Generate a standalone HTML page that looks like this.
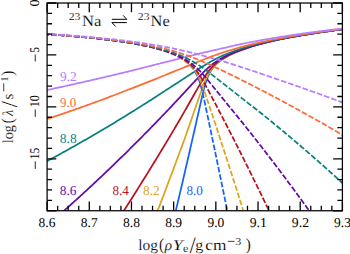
<!DOCTYPE html><html><head><meta charset="utf-8"><style>html,body{margin:0;padding:0;background:#fff;width:350px;height:254px;overflow:hidden}svg{display:block}text{font-family:"Liberation Serif",serif;text-rendering:geometricPrecision}</style></head><body><svg width="350" height="254" viewBox="0 0 350 254"><defs><clipPath id="c"><rect x="47.1" y="3.0" width="295.29999999999995" height="207.75"/></clipPath></defs><g clip-path="url(#c)" fill="none" stroke-width="1.75" stroke-linejoin="round"><polyline stroke="#1463ff" points="173.78,219.47 175.05,214.07 176.32,208.67 177.59,203.25 178.86,197.82 180.14,192.38 181.41,186.93 182.68,181.47 183.95,175.99 185.22,170.51 186.49,165.01 187.76,159.50 189.03,153.98 190.30,148.45 191.57,142.91 192.84,137.35 194.11,131.78 195.39,126.21 196.66,120.62 197.93,115.02 199.20,109.41 200.47,103.80 201.74,98.23 203.01,92.79 204.28,87.68 205.55,83.17 206.82,79.37 208.09,76.20 209.36,73.53 210.64,71.25 211.91,69.28 213.18,67.54 214.45,66.00 215.72,64.64 216.99,63.42 218.26,62.31 219.53,61.30 220.80,60.36 222.07,59.49 223.34,58.68 224.62,57.93 225.89,57.17 227.16,56.44 228.43,55.74 229.70,55.08 230.97,54.45 232.24,53.85 233.51,53.27 234.78,52.71 236.05,52.18 237.32,51.67 238.59,51.18 239.87,50.70 241.14,50.20 242.41,49.71 243.68,49.24 244.95,48.78 246.22,48.33 247.49,47.89 248.76,47.46 250.03,47.04 251.30,46.64 252.57,46.24 253.85,45.85 255.12,45.47 256.39,45.10 257.66,44.74 258.93,44.38 260.20,44.03 261.47,43.69 262.74,43.36 264.01,43.03 265.28,42.70 266.55,42.39 267.82,42.07 269.10,41.77 270.37,41.46 271.64,41.17 272.91,40.88 274.18,40.60 275.45,40.31 276.72,40.04 277.99,39.77 279.26,39.50 280.53,39.23 281.80,38.97 283.08,38.71 284.35,38.46 285.62,38.21 286.89,37.96 288.16,37.72 289.43,37.47 290.70,37.24 291.97,37.00 293.24,36.77 294.51,36.54 295.78,36.31 297.05,36.08 298.33,35.86 299.60,35.64 300.87,35.42 302.14,35.21 303.41,34.99 304.68,34.78 305.95,34.57 307.22,34.37 308.49,34.16 309.76,33.96 311.03,33.76 312.31,33.56 313.58,33.36 314.85,33.17 316.12,32.97 317.39,32.78 318.66,32.59 319.93,32.40 321.20,32.21 322.47,32.03 323.74,31.84 325.01,31.66 326.28,31.48 327.56,31.30 328.83,31.12 330.10,30.94 331.37,30.77 332.64,30.59 333.91,30.42 335.18,30.25 336.45,30.08 337.72,29.91 338.99,29.74 340.26,29.57 341.54,29.41 342.81,29.24 344.08,29.08 345.35,28.92 346.62,28.75"/><polyline stroke="#daa520" points="154.72,218.31 155.99,215.01 157.26,211.70 158.53,208.39 159.80,205.07 161.07,201.75 162.34,198.41 163.61,195.07 164.88,191.73 166.16,188.37 167.43,185.01 168.70,181.64 169.97,178.27 171.24,174.89 172.51,171.50 173.78,168.10 175.05,164.70 176.32,161.29 177.59,157.87 178.86,154.45 180.14,151.02 181.41,147.58 182.68,144.13 183.95,140.68 185.22,137.19 186.49,133.55 187.76,129.91 189.03,126.25 190.30,122.60 191.57,118.93 192.84,115.26 194.11,111.58 195.39,107.89 196.66,104.20 197.93,100.55 199.20,96.91 200.47,93.30 201.74,89.72 203.01,86.23 204.28,82.87 205.55,79.79 206.82,77.06 208.09,74.59 209.36,72.38 210.64,70.41 211.91,68.64 213.18,67.08 214.45,65.67 215.72,64.39 216.99,63.22 218.26,62.14 219.53,61.15 220.80,60.22 222.07,59.36 223.34,58.55 224.62,57.79 225.89,57.04 227.16,56.32 228.43,55.63 229.70,54.98 230.97,54.36 232.24,53.76 233.51,53.19 234.78,52.65 236.05,52.12 237.32,51.61 238.59,51.12 239.87,50.65 241.14,50.16 242.41,49.67 243.68,49.20 244.95,48.74 246.22,48.29 247.49,47.85 248.76,47.43 250.03,47.01 251.30,46.61 252.57,46.21 253.85,45.83 255.12,45.45 256.39,45.08 257.66,44.72 258.93,44.36 260.20,44.01 261.47,43.67 262.74,43.34 264.01,43.01 265.28,42.69 266.55,42.37 267.82,42.06 269.10,41.75 270.37,41.45 271.64,41.16 272.91,40.87 274.18,40.58 275.45,40.30 276.72,40.03 277.99,39.75 279.26,39.49 280.53,39.22 281.80,38.96 283.08,38.70 284.35,38.45 285.62,38.20 286.89,37.95 288.16,37.71 289.43,37.47 290.70,37.23 291.97,36.99 293.24,36.76 294.51,36.53 295.78,36.30 297.05,36.08 298.33,35.85 299.60,35.63 300.87,35.42 302.14,35.20 303.41,34.99 304.68,34.78 305.95,34.57 307.22,34.36 308.49,34.16 309.76,33.95 311.03,33.75 312.31,33.55 313.58,33.36 314.85,33.16 316.12,32.97 317.39,32.77 318.66,32.58 319.93,32.39 321.20,32.21 322.47,32.02 323.74,31.84 325.01,31.66 326.28,31.47 327.56,31.29 328.83,31.12 330.10,30.94 331.37,30.76 332.64,30.59 333.91,30.42 335.18,30.24 336.45,30.07 337.72,29.90 338.99,29.74 340.26,29.57 341.54,29.40 342.81,29.24 344.08,29.07 345.35,28.91 346.62,28.75"/><polyline stroke="#b9121e" points="119.13,218.03 120.40,216.06 121.68,214.10 122.95,212.13 124.22,210.15 125.49,208.17 126.76,206.19 128.03,204.20 129.30,202.21 130.57,200.21 131.84,198.21 133.11,196.21 134.38,194.20 135.65,192.19 136.93,190.17 138.20,188.15 139.47,186.13 140.74,184.10 142.01,182.07 143.28,180.03 144.55,177.99 145.82,175.94 147.09,173.89 148.36,171.84 149.63,169.78 150.91,167.71 152.18,165.65 153.45,163.57 154.72,161.50 155.99,159.42 157.26,157.33 158.53,155.24 159.80,153.15 161.07,151.05 162.34,148.95 163.61,146.84 164.88,144.73 166.16,142.62 167.43,140.50 168.70,138.37 169.97,136.25 171.24,134.11 172.51,131.98 173.78,129.83 175.05,127.69 176.32,125.54 177.59,123.38 178.86,121.22 180.14,119.05 181.41,116.84 182.68,114.62 183.95,112.40 185.22,110.18 186.49,107.95 187.76,105.72 189.03,103.48 190.30,101.24 191.57,98.99 192.84,96.74 194.11,94.49 195.39,92.26 196.66,90.07 197.93,87.89 199.20,85.72 200.47,83.57 201.74,81.44 203.01,79.36 204.28,77.33 205.55,75.38 206.82,73.52 208.09,71.76 209.36,70.11 210.64,68.59 211.91,67.20 213.18,65.90 214.45,64.69 215.72,63.57 216.99,62.52 218.26,61.53 219.53,60.61 220.80,59.75 222.07,58.93 223.34,58.16 224.62,57.43 225.89,56.72 227.16,56.03 228.43,55.37 229.70,54.74 230.97,54.14 232.24,53.56 233.51,53.01 234.78,52.48 236.05,51.96 237.32,51.47 238.59,50.99 239.87,50.53 241.14,50.04 242.41,49.56 243.68,49.09 244.95,48.64 246.22,48.20 247.49,47.77 248.76,47.35 250.03,46.94 251.30,46.53 252.57,46.14 253.85,45.76 255.12,45.39 256.39,45.02 257.66,44.66 258.93,44.31 260.20,43.96 261.47,43.62 262.74,43.29 264.01,42.96 265.28,42.64 266.55,42.33 267.82,42.02 269.10,41.71 270.37,41.41 271.64,41.12 272.91,40.83 274.18,40.55 275.45,40.27 276.72,39.99 277.99,39.72 279.26,39.46 280.53,39.19 281.80,38.93 283.08,38.68 284.35,38.42 285.62,38.17 286.89,37.93 288.16,37.68 289.43,37.44 290.70,37.20 291.97,36.97 293.24,36.74 294.51,36.51 295.78,36.28 297.05,36.06 298.33,35.84 299.60,35.62 300.87,35.40 302.14,35.18 303.41,34.97 304.68,34.76 305.95,34.55 307.22,34.35 308.49,34.14 309.76,33.94 311.03,33.74 312.31,33.54 313.58,33.34 314.85,33.15 316.12,32.95 317.39,32.76 318.66,32.57 319.93,32.38 321.20,32.20 322.47,32.01 323.74,31.83 325.01,31.64 326.28,31.46 327.56,31.28 328.83,31.11 330.10,30.93 331.37,30.75 332.64,30.58 333.91,30.41 335.18,30.23 336.45,30.06 337.72,29.89 338.99,29.73 340.26,29.56 341.54,29.39 342.81,29.23 344.08,29.07 345.35,28.90 346.62,28.74"/><polyline stroke="#640aa8" points="56.86,217.10 58.13,215.98 59.40,214.86 60.67,213.74 61.94,212.61 63.22,211.48 64.49,210.35 65.76,209.22 67.03,208.08 68.30,206.95 69.57,205.81 70.84,204.66 72.11,203.52 73.38,202.37 74.65,201.22 75.92,200.07 77.19,198.92 78.47,197.76 79.74,196.60 81.01,195.44 82.28,194.28 83.55,193.11 84.82,191.95 86.09,190.77 87.36,189.60 88.63,188.43 89.90,187.25 91.17,186.07 92.45,184.88 93.72,183.70 94.99,182.51 96.26,181.32 97.53,180.13 98.80,178.93 100.07,177.74 101.34,176.54 102.61,175.33 103.88,174.13 105.15,172.92 106.42,171.71 107.70,170.50 108.97,169.28 110.24,168.07 111.51,166.85 112.78,165.62 114.05,164.40 115.32,163.17 116.59,161.94 117.86,160.71 119.13,159.47 120.40,158.24 121.68,157.00 122.95,155.75 124.22,154.51 125.49,153.26 126.76,152.01 128.03,150.76 129.30,149.50 130.57,148.24 131.84,146.98 133.11,145.72 134.38,144.45 135.65,143.18 136.93,141.91 138.20,140.64 139.47,139.36 140.74,138.08 142.01,136.80 143.28,135.51 144.55,134.22 145.82,132.93 147.09,131.64 148.36,130.35 149.63,129.05 150.91,127.75 152.18,126.44 153.45,125.14 154.72,123.83 155.99,122.52 157.26,121.20 158.53,119.88 159.80,118.56 161.07,117.24 162.34,115.91 163.61,114.59 164.88,113.25 166.16,111.92 167.43,110.58 168.70,109.24 169.97,107.90 171.24,106.56 172.51,105.21 173.78,103.86 175.05,102.51 176.32,101.15 177.59,99.79 178.86,98.43 180.14,97.06 181.41,95.70 182.68,94.33 183.95,92.95 185.22,91.58 186.49,90.20 187.76,88.82 189.03,87.44 190.30,86.07 191.57,84.72 192.84,83.37 194.11,82.02 195.39,80.67 196.66,79.33 197.93,77.99 199.20,76.66 200.47,75.34 201.74,74.03 203.01,72.75 204.28,71.48 205.55,70.26 206.82,69.08 208.09,67.93 209.36,66.83 210.64,65.76 211.91,64.74 213.18,63.75 214.45,62.81 215.72,61.92 216.99,61.06 218.26,60.24 219.53,59.45 220.80,58.71 222.07,57.99 223.34,57.30 224.62,56.65 225.89,56.00 227.16,55.38 228.43,54.77 229.70,54.19 230.97,53.64 232.24,53.10 233.51,52.58 234.78,52.08 236.05,51.59 237.32,51.12 238.59,50.66 239.87,50.22 241.14,49.75 242.41,49.29 243.68,48.84 244.95,48.40 246.22,47.97 247.49,47.55 248.76,47.14 250.03,46.74 251.30,46.35 252.57,45.97 253.85,45.60 255.12,45.23 256.39,44.87 257.66,44.52 258.93,44.17 260.20,43.83 261.47,43.50 262.74,43.17 264.01,42.85 265.28,42.53 266.55,42.22 267.82,41.91 269.10,41.61 270.37,41.32 271.64,41.03 272.91,40.74 274.18,40.46 275.45,40.19 276.72,39.92 277.99,39.65 279.26,39.38 280.53,39.12 281.80,38.86 283.08,38.61 284.35,38.36 285.62,38.11 286.89,37.87 288.16,37.62 289.43,37.39 290.70,37.15 291.97,36.92 293.24,36.69 294.51,36.46 295.78,36.23 297.05,36.01 298.33,35.79 299.60,35.57 300.87,35.35 302.14,35.14 303.41,34.93 304.68,34.72 305.95,34.51 307.22,34.31 308.49,34.10 309.76,33.90 311.03,33.70 312.31,33.50 313.58,33.31 314.85,33.11 316.12,32.92 317.39,32.73 318.66,32.54 319.93,32.35 321.20,32.17 322.47,31.98 323.74,31.80 325.01,31.62 326.28,31.43 327.56,31.26 328.83,31.08 330.10,30.90 331.37,30.73 332.64,30.55 333.91,30.38 335.18,30.21 336.45,30.04 337.72,29.87 338.99,29.70 340.26,29.54 341.54,29.37 342.81,29.21 344.08,29.05 345.35,28.88 346.62,28.72"/><polyline stroke="#08807f" points="42.88,163.44 44.15,162.76 45.42,162.08 46.69,161.39 47.96,160.70 49.24,160.01 50.51,159.32 51.78,158.63 53.05,157.94 54.32,157.24 55.59,156.55 56.86,155.85 58.13,155.15 59.40,154.45 60.67,153.75 61.94,153.04 63.22,152.34 64.49,151.63 65.76,150.92 67.03,150.21 68.30,149.50 69.57,148.79 70.84,148.08 72.11,147.36 73.38,146.65 74.65,145.93 75.92,145.21 77.19,144.49 78.47,143.76 79.74,143.04 81.01,142.31 82.28,141.59 83.55,140.86 84.82,140.13 86.09,139.40 87.36,138.66 88.63,137.93 89.90,137.19 91.17,136.45 92.45,135.72 93.72,134.97 94.99,134.23 96.26,133.49 97.53,132.74 98.80,132.00 100.07,131.25 101.34,130.50 102.61,129.74 103.88,128.99 105.15,128.23 106.42,127.48 107.70,126.72 108.97,125.96 110.24,125.20 111.51,124.43 112.78,123.67 114.05,122.90 115.32,122.13 116.59,121.37 117.86,120.59 119.13,119.82 120.40,119.05 121.68,118.27 122.95,117.49 124.22,116.71 125.49,115.93 126.76,115.15 128.03,114.37 129.30,113.58 130.57,112.79 131.84,112.00 133.11,111.21 134.38,110.42 135.65,109.62 136.93,108.83 138.20,108.03 139.47,107.23 140.74,106.43 142.01,105.63 143.28,104.82 144.55,104.02 145.82,103.21 147.09,102.40 148.36,101.59 149.63,100.78 150.91,99.96 152.18,99.15 153.45,98.33 154.72,97.51 155.99,96.69 157.26,95.87 158.53,95.04 159.80,94.22 161.07,93.39 162.34,92.56 163.61,91.73 164.88,90.89 166.16,90.08 167.43,89.27 168.70,88.45 169.97,87.63 171.24,86.82 172.51,86.00 173.78,85.17 175.05,84.35 176.32,83.53 177.59,82.70 178.86,81.87 180.14,81.04 181.41,80.21 182.68,79.38 183.95,78.55 185.22,77.71 186.49,76.88 187.76,76.05 189.03,75.21 190.30,74.38 191.57,73.54 192.84,72.71 194.11,71.88 195.39,71.05 196.66,70.22 197.93,69.40 199.20,68.58 200.47,67.77 201.74,66.97 203.01,66.19 204.28,65.41 205.55,64.64 206.82,63.88 208.09,63.13 209.36,62.40 210.64,61.68 211.91,60.97 213.18,60.28 214.45,59.61 215.72,58.95 216.99,58.31 218.26,57.68 219.53,57.07 220.80,56.48 222.07,55.90 223.34,55.34 224.62,54.80 225.89,54.26 227.16,53.73 228.43,53.21 229.70,52.71 230.97,52.22 232.24,51.74 233.51,51.28 234.78,50.83 236.05,50.39 237.32,49.96 238.59,49.54 239.87,49.13 241.14,48.71 242.41,48.29 243.68,47.88 244.95,47.48 246.22,47.09 247.49,46.71 248.76,46.33 250.03,45.96 251.30,45.60 252.57,45.25 253.85,44.90 255.12,44.56 256.39,44.22 257.66,43.89 258.93,43.57 260.20,43.25 261.47,42.94 262.74,42.63 264.01,42.33 265.28,42.03 266.55,41.74 267.82,41.45 269.10,41.17 270.37,40.89 271.64,40.61 272.91,40.34 274.18,40.07 275.45,39.80 276.72,39.54 277.99,39.28 279.26,39.02 280.53,38.77 281.80,38.52 283.08,38.28 284.35,38.04 285.62,37.80 286.89,37.56 288.16,37.32 289.43,37.09 290.70,36.86 291.97,36.64 293.24,36.41 294.51,36.19 295.78,35.97 297.05,35.76 298.33,35.54 299.60,35.33 300.87,35.12 302.14,34.91 303.41,34.71 304.68,34.50 305.95,34.30 307.22,34.10 308.49,33.90 309.76,33.71 311.03,33.51 312.31,33.32 313.58,33.13 314.85,32.94 316.12,32.75 317.39,32.57 318.66,32.38 319.93,32.20 321.20,32.02 322.47,31.84 323.74,31.66 325.01,31.48 326.28,31.31 327.56,31.13 328.83,30.96 330.10,30.79 331.37,30.62 332.64,30.45 333.91,30.28 335.18,30.11 336.45,29.95 337.72,29.78 338.99,29.62 340.26,29.46 341.54,29.30 342.81,29.14 344.08,28.98 345.35,28.82 346.62,28.66"/><polyline stroke="#ff6a35" points="42.88,120.43 44.15,120.01 45.42,119.58 46.69,119.16 47.96,118.73 49.24,118.31 50.51,117.88 51.78,117.46 53.05,117.03 54.32,116.60 55.59,116.17 56.86,115.74 58.13,115.30 59.40,114.87 60.67,114.44 61.94,114.00 63.22,113.57 64.49,113.13 65.76,112.69 67.03,112.25 68.30,111.82 69.57,111.37 70.84,110.93 72.11,110.49 73.38,110.05 74.65,109.60 75.92,109.16 77.19,108.71 78.47,108.27 79.74,107.82 81.01,107.37 82.28,106.92 83.55,106.47 84.82,106.02 86.09,105.57 87.36,105.11 88.63,104.66 89.90,104.20 91.17,103.75 92.45,103.29 93.72,102.83 94.99,102.37 96.26,101.91 97.53,101.45 98.80,100.99 100.07,100.52 101.34,100.05 102.61,99.57 103.88,99.09 105.15,98.61 106.42,98.13 107.70,97.65 108.97,97.16 110.24,96.68 111.51,96.19 112.78,95.71 114.05,95.22 115.32,94.73 116.59,94.25 117.86,93.76 119.13,93.26 120.40,92.77 121.68,92.28 122.95,91.79 124.22,91.29 125.49,90.79 126.76,90.30 128.03,89.80 129.30,89.31 130.57,88.82 131.84,88.33 133.11,87.84 134.38,87.35 135.65,86.85 136.93,86.36 138.20,85.86 139.47,85.37 140.74,84.87 142.01,84.37 143.28,83.87 144.55,83.37 145.82,82.87 147.09,82.37 148.36,81.86 149.63,81.36 150.91,80.85 152.18,80.35 153.45,79.84 154.72,79.33 155.99,78.82 157.26,78.31 158.53,77.80 159.80,77.28 161.07,76.77 162.34,76.25 163.61,75.74 164.88,75.22 166.16,74.70 167.43,74.18 168.70,73.66 169.97,73.14 171.24,72.62 172.51,72.10 173.78,71.58 175.05,71.05 176.32,70.54 177.59,70.02 178.86,69.51 180.14,68.99 181.41,68.47 182.68,67.96 183.95,67.44 185.22,66.92 186.49,66.40 187.76,65.89 189.03,65.37 190.30,64.85 191.57,64.34 192.84,63.82 194.11,63.31 195.39,62.79 196.66,62.28 197.93,61.77 199.20,61.26 200.47,60.76 201.74,60.26 203.01,59.76 204.28,59.27 205.55,58.78 206.82,58.29 208.09,57.81 209.36,57.33 210.64,56.86 211.91,56.39 213.18,55.92 214.45,55.46 215.72,55.01 216.99,54.56 218.26,54.12 219.53,53.68 220.80,53.25 222.07,52.82 223.34,52.41 224.62,51.99 225.89,51.58 227.16,51.17 228.43,50.77 229.70,50.38 230.97,49.99 232.24,49.60 233.51,49.23 234.78,48.86 236.05,48.49 237.32,48.13 238.59,47.78 239.87,47.43 241.14,47.08 242.41,46.73 243.68,46.39 244.95,46.05 246.22,45.72 247.49,45.39 248.76,45.07 250.03,44.75 251.30,44.44 252.57,44.13 253.85,43.83 255.12,43.53 256.39,43.23 257.66,42.94 258.93,42.66 260.20,42.38 261.47,42.10 262.74,41.83 264.01,41.56 265.28,41.29 266.55,41.03 267.82,40.77 269.10,40.51 270.37,40.25 271.64,40.00 272.91,39.74 274.18,39.49 275.45,39.24 276.72,38.99 277.99,38.75 279.26,38.51 280.53,38.27 281.80,38.04 283.08,37.80 284.35,37.57 285.62,37.35 286.89,37.12 288.16,36.90 289.43,36.68 290.70,36.46 291.97,36.25 293.24,36.03 294.51,35.82 295.78,35.61 297.05,35.40 298.33,35.20 299.60,34.99 300.87,34.79 302.14,34.59 303.41,34.40 304.68,34.20 305.95,34.00 307.22,33.81 308.49,33.62 309.76,33.43 311.03,33.24 312.31,33.06 313.58,32.87 314.85,32.69 316.12,32.51 317.39,32.33 318.66,32.15 319.93,31.97 321.20,31.80 322.47,31.62 323.74,31.45 325.01,31.28 326.28,31.11 327.56,30.94 328.83,30.77 330.10,30.60 331.37,30.44 332.64,30.27 333.91,30.11 335.18,29.95 336.45,29.79 337.72,29.63 338.99,29.47 340.26,29.31 341.54,29.15 342.81,29.00 344.08,28.84 345.35,28.69 346.62,28.53"/><polyline stroke="#b87cff" points="42.88,90.92 44.15,90.65 45.42,90.38 46.69,90.11 47.96,89.84 49.24,89.57 50.51,89.29 51.78,89.02 53.05,88.75 54.32,88.47 55.59,88.20 56.86,87.92 58.13,87.65 59.40,87.37 60.67,87.09 61.94,86.82 63.22,86.54 64.49,86.26 65.76,85.98 67.03,85.70 68.30,85.42 69.57,85.14 70.84,84.86 72.11,84.57 73.38,84.29 74.65,84.01 75.92,83.72 77.19,83.44 78.47,83.15 79.74,82.87 81.01,82.58 82.28,82.29 83.55,82.01 84.82,81.72 86.09,81.43 87.36,81.14 88.63,80.85 89.90,80.56 91.17,80.27 92.45,79.97 93.72,79.68 94.99,79.39 96.26,79.09 97.53,78.80 98.80,78.51 100.07,78.21 101.34,77.91 102.61,77.62 103.88,77.32 105.15,77.02 106.42,76.72 107.70,76.42 108.97,76.12 110.24,75.82 111.51,75.52 112.78,75.22 114.05,74.92 115.32,74.62 116.59,74.31 117.86,74.01 119.13,73.70 120.40,73.40 121.68,73.09 122.95,72.78 124.22,72.48 125.49,72.17 126.76,71.85 128.03,71.54 129.30,71.23 130.57,70.91 131.84,70.60 133.11,70.28 134.38,69.96 135.65,69.64 136.93,69.33 138.20,69.01 139.47,68.69 140.74,68.37 142.01,68.05 143.28,67.73 144.55,67.41 145.82,67.08 147.09,66.76 148.36,66.44 149.63,66.11 150.91,65.79 152.18,65.46 153.45,65.14 154.72,64.81 155.99,64.48 157.26,64.16 158.53,63.83 159.80,63.50 161.07,63.18 162.34,62.87 163.61,62.56 164.88,62.24 166.16,61.93 167.43,61.61 168.70,61.30 169.97,60.98 171.24,60.66 172.51,60.35 173.78,60.03 175.05,59.71 176.32,59.39 177.59,59.08 178.86,58.76 180.14,58.44 181.41,58.12 182.68,57.80 183.95,57.48 185.22,57.16 186.49,56.84 187.76,56.53 189.03,56.21 190.30,55.89 191.57,55.57 192.84,55.25 194.11,54.93 195.39,54.62 196.66,54.30 197.93,53.98 199.20,53.67 200.47,53.36 201.74,53.06 203.01,52.76 204.28,52.46 205.55,52.16 206.82,51.87 208.09,51.57 209.36,51.28 210.64,50.99 211.91,50.70 213.18,50.41 214.45,50.12 215.72,49.83 216.99,49.55 218.26,49.26 219.53,48.98 220.80,48.70 222.07,48.42 223.34,48.15 224.62,47.87 225.89,47.57 227.16,47.26 228.43,46.96 229.70,46.65 230.97,46.35 232.24,46.05 233.51,45.75 234.78,45.46 236.05,45.16 237.32,44.87 238.59,44.58 239.87,44.29 241.14,44.03 242.41,43.77 243.68,43.51 244.95,43.25 246.22,43.00 247.49,42.75 248.76,42.50 250.03,42.26 251.30,42.01 252.57,41.77 253.85,41.53 255.12,41.29 256.39,41.06 257.66,40.83 258.93,40.60 260.20,40.37 261.47,40.14 262.74,39.92 264.01,39.70 265.28,39.48 266.55,39.26 267.82,39.04 269.10,38.83 270.37,38.62 271.64,38.40 272.91,38.18 274.18,37.96 275.45,37.75 276.72,37.54 277.99,37.33 279.26,37.12 280.53,36.91 281.80,36.71 283.08,36.50 284.35,36.30 285.62,36.10 286.89,35.90 288.16,35.71 289.43,35.51 290.70,35.32 291.97,35.13 293.24,34.94 294.51,34.75 295.78,34.56 297.05,34.38 298.33,34.19 299.60,34.01 300.87,33.83 302.14,33.65 303.41,33.47 304.68,33.30 305.95,33.12 307.22,32.95 308.49,32.77 309.76,32.60 311.03,32.43 312.31,32.26 313.58,32.10 314.85,31.93 316.12,31.76 317.39,31.60 318.66,31.44 319.93,31.28 321.20,31.12 322.47,30.96 323.74,30.80 325.01,30.64 326.28,30.48 327.56,30.33 328.83,30.17 330.10,30.02 331.37,29.87 332.64,29.72 333.91,29.57 335.18,29.42 336.45,29.27 337.72,29.12 338.99,28.98 340.26,28.83 341.54,28.69 342.81,28.54 344.08,28.40 345.35,28.26 346.62,28.11"/><polyline stroke="#1463ff" stroke-dasharray="5.65 1.95" stroke-dashoffset="-0.67" points="42.88,33.99 44.15,34.07 45.42,34.15 46.69,34.24 47.96,34.32 49.24,34.41 50.51,34.50 51.78,34.59 53.05,34.68 54.32,34.77 55.59,34.86 56.86,34.95 58.13,35.04 59.40,35.14 60.67,35.23 61.94,35.33 63.22,35.43 64.49,35.52 65.76,35.62 67.03,35.72 68.30,35.83 69.57,35.93 70.84,36.03 72.11,36.14 73.38,36.25 74.65,36.35 75.92,36.46 77.19,36.57 78.47,36.69 79.74,36.80 81.01,36.91 82.28,37.03 83.55,37.15 84.82,37.27 86.09,37.39 87.36,37.51 88.63,37.64 89.90,37.76 91.17,37.89 92.45,38.02 93.72,38.15 94.99,38.28 96.26,38.42 97.53,38.55 98.80,38.69 100.07,38.83 101.34,38.98 102.61,39.12 103.88,39.27 105.15,39.42 106.42,39.57 107.70,39.72 108.97,39.88 110.24,40.04 111.51,40.20 112.78,40.36 114.05,40.53 115.32,40.70 116.59,40.87 117.86,41.04 119.13,41.22 120.40,41.40 121.68,41.59 122.95,41.78 124.22,41.97 125.49,42.16 126.76,42.36 128.03,42.56 129.30,42.77 130.57,42.98 131.84,43.19 133.11,43.41 134.38,43.63 135.65,43.86 136.93,44.09 138.20,44.33 139.47,44.58 140.74,44.82 142.01,45.08 143.28,45.34 144.55,45.60 145.82,45.88 147.09,46.16 148.36,46.44 149.63,46.74 150.91,47.04 152.18,47.35 153.45,47.67 154.72,47.99 155.99,48.33 157.26,48.68 158.53,49.03 159.80,49.40 161.07,49.78 162.34,50.18 163.61,50.58 164.88,51.00 166.16,51.44 167.43,51.89 168.70,52.36 169.97,52.85 171.24,53.36 172.51,53.89 173.78,54.44 175.05,55.03 176.32,55.64 177.59,56.28 178.86,56.95 180.14,57.66 181.41,58.42 182.68,59.22 183.95,60.08 185.22,60.99 186.49,61.98 187.76,63.04 189.03,64.20 190.30,65.47 191.57,66.87 192.84,68.43 194.11,70.19 195.39,72.19 196.66,74.52 197.93,77.25 199.20,80.53 200.47,84.48 201.74,89.21 203.01,94.60 204.28,100.37 205.55,106.30 206.82,112.29 208.09,118.30 209.36,124.33 210.64,130.37 211.91,136.43 213.18,142.49 214.45,148.57 215.72,154.66 216.99,160.76 218.26,166.87 219.53,173.00 220.80,179.14 222.07,185.29 223.34,191.45 224.62,197.62 225.89,203.81 227.16,210.01 228.43,216.22 229.70,221.14"/><polyline stroke="#daa520" stroke-dasharray="5.65 1.95" stroke-dashoffset="-0.67" points="42.88,33.98 44.15,34.07 45.42,34.15 46.69,34.24 47.96,34.32 49.24,34.41 50.51,34.50 51.78,34.58 53.05,34.67 54.32,34.76 55.59,34.85 56.86,34.95 58.13,35.04 59.40,35.13 60.67,35.23 61.94,35.33 63.22,35.42 64.49,35.52 65.76,35.62 67.03,35.72 68.30,35.82 69.57,35.93 70.84,36.03 72.11,36.14 73.38,36.24 74.65,36.35 75.92,36.46 77.19,36.57 78.47,36.68 79.74,36.80 81.01,36.91 82.28,37.03 83.55,37.15 84.82,37.26 86.09,37.39 87.36,37.51 88.63,37.63 89.90,37.76 91.17,37.88 92.45,38.01 93.72,38.14 94.99,38.28 96.26,38.41 97.53,38.55 98.80,38.69 100.07,38.83 101.34,38.97 102.61,39.11 103.88,39.26 105.15,39.41 106.42,39.56 107.70,39.72 108.97,39.87 110.24,40.03 111.51,40.19 112.78,40.35 114.05,40.52 115.32,40.69 116.59,40.86 117.86,41.04 119.13,41.21 120.40,41.40 121.68,41.58 122.95,41.77 124.22,41.96 125.49,42.15 126.76,42.35 128.03,42.55 129.30,42.76 130.57,42.97 131.84,43.18 133.11,43.40 134.38,43.62 135.65,43.85 136.93,44.08 138.20,44.32 139.47,44.56 140.74,44.81 142.01,45.06 143.28,45.32 144.55,45.59 145.82,45.86 147.09,46.14 148.36,46.42 149.63,46.71 150.91,47.01 152.18,47.32 153.45,47.64 154.72,47.97 155.99,48.30 157.26,48.65 158.53,49.00 159.80,49.37 161.07,49.75 162.34,50.14 163.61,50.54 164.88,50.96 166.16,51.39 167.43,51.84 168.70,52.31 169.97,52.79 171.24,53.30 172.51,53.82 173.78,54.37 175.05,54.95 176.32,55.55 177.59,56.18 178.86,56.84 180.14,57.54 181.41,58.28 182.68,59.07 183.95,59.90 185.22,60.79 186.49,61.75 187.76,62.78 189.03,63.89 190.30,65.09 191.57,66.41 192.84,67.86 194.11,69.47 195.39,71.26 196.66,73.26 197.93,75.52 199.20,78.08 200.47,80.94 201.74,84.10 203.01,87.51 204.28,91.10 205.55,94.80 206.82,98.54 208.09,102.32 209.36,106.12 210.64,109.93 211.91,113.75 213.18,117.58 214.45,121.41 215.72,125.26 216.99,129.11 218.26,132.97 219.53,136.83 220.80,140.71 222.07,144.59 223.34,148.48 224.62,152.38 225.89,156.28 227.16,160.20 228.43,164.12 229.70,168.05 230.97,171.98 232.24,175.93 233.51,179.88 234.78,183.84 236.05,187.81 237.32,191.78 238.59,195.77 239.87,199.76 241.14,203.76 242.41,207.77 243.68,211.79 244.95,215.81 246.22,219.84"/><polyline stroke="#b9121e" stroke-dasharray="5.65 1.95" stroke-dashoffset="-0.67" points="42.88,33.98 44.15,34.06 45.42,34.15 46.69,34.23 47.96,34.32 49.24,34.40 50.51,34.49 51.78,34.58 53.05,34.67 54.32,34.76 55.59,34.85 56.86,34.94 58.13,35.03 59.40,35.13 60.67,35.22 61.94,35.32 63.22,35.41 64.49,35.51 65.76,35.61 67.03,35.71 68.30,35.81 69.57,35.92 70.84,36.02 72.11,36.13 73.38,36.23 74.65,36.34 75.92,36.45 77.19,36.56 78.47,36.67 79.74,36.79 81.01,36.90 82.28,37.02 83.55,37.13 84.82,37.25 86.09,37.37 87.36,37.50 88.63,37.62 89.90,37.75 91.17,37.87 92.45,38.00 93.72,38.13 94.99,38.26 96.26,38.40 97.53,38.54 98.80,38.67 100.07,38.81 101.34,38.96 102.61,39.10 103.88,39.25 105.15,39.39 106.42,39.55 107.70,39.70 108.97,39.85 110.24,40.01 111.51,40.17 112.78,40.34 114.05,40.50 115.32,40.67 116.59,40.84 117.86,41.02 119.13,41.19 120.40,41.37 121.68,41.56 122.95,41.74 124.22,41.93 125.49,42.13 126.76,42.32 128.03,42.52 129.30,42.73 130.57,42.94 131.84,43.15 133.11,43.37 134.38,43.59 135.65,43.81 136.93,44.05 138.20,44.28 139.47,44.52 140.74,44.77 142.01,45.02 143.28,45.28 144.55,45.54 145.82,45.81 147.09,46.09 148.36,46.37 149.63,46.66 150.91,46.96 152.18,47.26 153.45,47.58 154.72,47.90 155.99,48.23 157.26,48.57 158.53,48.92 159.80,49.29 161.07,49.66 162.34,50.04 163.61,50.44 164.88,50.85 166.16,51.28 167.43,51.72 168.70,52.18 169.97,52.65 171.24,53.14 172.51,53.66 173.78,54.19 175.05,54.75 176.32,55.33 177.59,55.94 178.86,56.58 180.14,57.26 181.41,57.96 182.68,58.71 183.95,59.50 185.22,60.34 186.49,61.22 187.76,62.17 189.03,63.18 190.30,64.27 191.57,65.43 192.84,66.68 194.11,68.04 195.39,69.50 196.66,71.08 197.93,72.78 199.20,74.60 200.47,76.55 201.74,78.61 203.01,80.77 204.28,83.01 205.55,85.30 206.82,87.63 208.09,89.99 209.36,92.37 210.64,94.77 211.91,97.17 213.18,99.59 214.45,102.00 215.72,104.43 216.99,106.86 218.26,109.30 219.53,111.74 220.80,114.18 222.07,116.63 223.34,119.09 224.62,121.55 225.89,124.01 227.16,126.49 228.43,128.96 229.70,131.44 230.97,133.93 232.24,136.42 233.51,138.91 234.78,141.41 236.05,143.92 237.32,146.43 238.59,148.94 239.87,151.46 241.14,153.99 242.41,156.52 243.68,159.05 244.95,161.60 246.22,164.14 247.49,166.69 248.76,169.25 250.03,171.81 251.30,174.37 252.57,176.95 253.85,179.52 255.12,182.10 256.39,184.69 257.66,187.28 258.93,189.88 260.20,192.48 261.47,195.09 262.74,197.70 264.01,200.32 265.28,202.95 266.55,205.57 267.82,208.21 269.10,210.85 270.37,213.49 271.64,216.14 272.91,218.80"/><polyline stroke="#640aa8" stroke-dasharray="5.65 1.95" stroke-dashoffset="-0.67" points="42.88,33.96 44.15,34.05 45.42,34.13 46.69,34.22 47.96,34.30 49.24,34.39 50.51,34.47 51.78,34.56 53.05,34.65 54.32,34.74 55.59,34.83 56.86,34.92 58.13,35.02 59.40,35.11 60.67,35.20 61.94,35.30 63.22,35.40 64.49,35.49 65.76,35.59 67.03,35.69 68.30,35.79 69.57,35.90 70.84,36.00 72.11,36.11 73.38,36.21 74.65,36.32 75.92,36.43 77.19,36.54 78.47,36.65 79.74,36.76 81.01,36.88 82.28,36.99 83.55,37.11 84.82,37.23 86.09,37.35 87.36,37.47 88.63,37.59 89.90,37.72 91.17,37.84 92.45,37.97 93.72,38.10 94.99,38.23 96.26,38.37 97.53,38.50 98.80,38.64 100.07,38.78 101.34,38.92 102.61,39.06 103.88,39.21 105.15,39.36 106.42,39.51 107.70,39.66 108.97,39.81 110.24,39.97 111.51,40.13 112.78,40.29 114.05,40.45 115.32,40.62 116.59,40.79 117.86,40.96 119.13,41.14 120.40,41.32 121.68,41.50 122.95,41.68 124.22,41.87 125.49,42.06 126.76,42.26 128.03,42.46 129.30,42.66 130.57,42.87 131.84,43.08 133.11,43.29 134.38,43.51 135.65,43.73 136.93,43.96 138.20,44.19 139.47,44.43 140.74,44.67 142.01,44.92 143.28,45.17 144.55,45.43 145.82,45.69 147.09,45.97 148.36,46.24 149.63,46.53 150.91,46.82 152.18,47.12 153.45,47.42 154.72,47.74 155.99,48.06 157.26,48.39 158.53,48.73 159.80,49.09 161.07,49.45 162.34,49.82 163.61,50.20 164.88,50.60 166.16,51.01 167.43,51.43 168.70,51.87 169.97,52.32 171.24,52.78 172.51,53.27 173.78,53.77 175.05,54.30 176.32,54.84 177.59,55.40 178.86,55.99 180.14,56.61 181.41,57.25 182.68,57.92 183.95,58.62 185.22,59.36 186.49,60.13 187.76,60.94 189.03,61.79 190.30,62.68 191.57,63.62 192.84,64.61 194.11,65.64 195.39,66.73 196.66,67.86 197.93,69.05 199.20,70.29 200.47,71.59 201.74,72.99 203.01,74.42 204.28,75.88 205.55,77.37 206.82,78.89 208.09,80.43 209.36,81.98 210.64,83.54 211.91,85.11 213.18,86.69 214.45,88.28 215.72,89.84 216.99,91.39 218.26,92.94 219.53,94.50 220.80,96.06 222.07,97.62 223.34,99.19 224.62,100.76 225.89,102.33 227.16,103.91 228.43,105.49 229.70,107.07 230.97,108.63 232.24,110.17 233.51,111.73 234.78,113.28 236.05,114.84 237.32,116.40 238.59,117.96 239.87,119.53 241.14,121.09 242.41,122.67 243.68,124.24 244.95,125.82 246.22,127.42 247.49,129.02 248.76,130.62 250.03,132.22 251.30,133.83 252.57,135.44 253.85,137.06 255.12,138.67 256.39,140.29 257.66,141.92 258.93,143.55 260.20,145.18 261.47,146.81 262.74,148.45 264.01,150.09 265.28,151.73 266.55,153.38 267.82,155.04 269.10,156.69 270.37,158.35 271.64,160.01 272.91,161.68 274.18,163.35 275.45,165.02 276.72,166.70 277.99,168.38 279.26,170.06 280.53,171.75 281.80,173.44 283.08,175.13 284.35,176.83 285.62,178.53 286.89,180.23 288.16,181.94 289.43,183.65 290.70,185.36 291.97,187.08 293.24,188.80 294.51,190.53 295.78,192.26 297.05,193.99 298.33,195.72 299.60,197.46 300.87,199.21 302.14,200.96 303.41,202.71 304.68,204.47 305.95,206.24 307.22,208.00 308.49,209.77 309.76,211.54 311.03,213.32 312.31,215.10 313.58,216.88 314.85,218.67"/><polyline stroke="#08807f" stroke-dasharray="5.65 1.95" stroke-dashoffset="-0.67" points="42.88,33.93 44.15,34.01 45.42,34.09 46.69,34.18 47.96,34.26 49.24,34.35 50.51,34.43 51.78,34.52 53.05,34.61 54.32,34.70 55.59,34.79 56.86,34.88 58.13,34.97 59.40,35.06 60.67,35.16 61.94,35.25 63.22,35.35 64.49,35.45 65.76,35.54 67.03,35.64 68.30,35.74 69.57,35.85 70.84,35.95 72.11,36.05 73.38,36.16 74.65,36.26 75.92,36.37 77.19,36.48 78.47,36.59 79.74,36.70 81.01,36.81 82.28,36.93 83.55,37.04 84.82,37.16 86.09,37.28 87.36,37.40 88.63,37.52 89.90,37.64 91.17,37.77 92.45,37.90 93.72,38.02 94.99,38.15 96.26,38.28 97.53,38.42 98.80,38.55 100.07,38.69 101.34,38.83 102.61,38.97 103.88,39.11 105.15,39.26 106.42,39.41 107.70,39.55 108.97,39.71 110.24,39.86 111.51,40.02 112.78,40.18 114.05,40.34 115.32,40.50 116.59,40.67 117.86,40.83 119.13,41.01 120.40,41.18 121.68,41.36 122.95,41.54 124.22,41.72 125.49,41.91 126.76,42.10 128.03,42.29 129.30,42.49 130.57,42.69 131.84,42.89 133.11,43.10 134.38,43.31 135.65,43.53 136.93,43.75 138.20,43.97 139.47,44.20 140.74,44.43 142.01,44.67 143.28,44.91 144.55,45.16 145.82,45.42 147.09,45.68 148.36,45.94 149.63,46.21 150.91,46.49 152.18,46.77 153.45,47.06 154.72,47.36 155.99,47.66 157.26,47.97 158.53,48.29 159.80,48.62 161.07,48.96 162.34,49.30 163.61,49.65 164.88,50.02 166.16,50.39 167.43,50.78 168.70,51.17 169.97,51.58 171.24,52.00 172.51,52.43 173.78,52.87 175.05,53.33 176.32,53.80 177.59,54.29 178.86,54.79 180.14,55.31 181.41,55.85 182.68,56.40 183.95,56.97 185.22,57.56 186.49,58.17 187.76,58.80 189.03,59.44 190.30,60.11 191.57,60.80 192.84,61.51 194.11,62.25 195.39,63.00 196.66,63.77 197.93,64.56 199.20,65.37 200.47,66.21 201.74,67.10 203.01,68.00 204.28,68.92 205.55,69.85 206.82,70.79 208.09,71.74 209.36,72.70 210.64,73.67 211.91,74.64 213.18,75.63 214.45,76.62 215.72,77.61 216.99,78.61 218.26,79.61 219.53,80.62 220.80,81.63 222.07,82.64 223.34,83.66 224.62,84.68 225.89,85.67 227.16,86.66 228.43,87.64 229.70,88.63 230.97,89.62 232.24,90.62 233.51,91.61 234.78,92.61 236.05,93.61 237.32,94.61 238.59,95.61 239.87,96.62 241.14,97.63 242.41,98.64 243.68,99.65 244.95,100.66 246.22,101.64 247.49,102.62 248.76,103.60 250.03,104.59 251.30,105.57 252.57,106.56 253.85,107.55 255.12,108.54 256.39,109.54 257.66,110.53 258.93,111.53 260.20,112.53 261.47,113.54 262.74,114.54 264.01,115.55 265.28,116.56 266.55,117.59 267.82,118.62 269.10,119.66 270.37,120.70 271.64,121.74 272.91,122.78 274.18,123.82 275.45,124.87 276.72,125.92 277.99,126.97 279.26,128.02 280.53,129.07 281.80,130.13 283.08,131.19 284.35,132.25 285.62,133.31 286.89,134.38 288.16,135.45 289.43,136.51 290.70,137.59 291.97,138.66 293.24,139.74 294.51,140.82 295.78,141.90 297.05,142.98 298.33,144.06 299.60,145.15 300.87,146.24 302.14,147.33 303.41,148.42 304.68,149.51 305.95,150.61 307.22,151.71 308.49,152.81 309.76,153.91 311.03,155.01 312.31,156.12 313.58,157.23 314.85,158.34 316.12,159.46 317.39,160.57 318.66,161.69 319.93,162.81 321.20,163.93 322.47,165.06 323.74,166.19 325.01,167.32 326.28,168.45 327.56,169.59 328.83,170.72 330.10,171.86 331.37,173.00 332.64,174.15 333.91,175.30 335.18,176.44 336.45,177.60 337.72,178.75 338.99,179.91 340.26,181.06 341.54,182.23 342.81,183.40 344.08,184.59 345.35,185.78 346.62,186.97"/><polyline stroke="#ff6a35" stroke-dasharray="5.65 1.95" stroke-dashoffset="-0.67" points="42.88,33.84 44.15,33.92 45.42,34.01 46.69,34.09 47.96,34.17 49.24,34.25 50.51,34.34 51.78,34.42 53.05,34.51 54.32,34.60 55.59,34.69 56.86,34.78 58.13,34.87 59.40,34.96 60.67,35.05 61.94,35.14 63.22,35.24 64.49,35.33 65.76,35.43 67.03,35.52 68.30,35.62 69.57,35.72 70.84,35.82 72.11,35.92 73.38,36.02 74.65,36.13 75.92,36.23 77.19,36.34 78.47,36.45 79.74,36.55 81.01,36.66 82.28,36.77 83.55,36.89 84.82,37.00 86.09,37.12 87.36,37.23 88.63,37.35 89.90,37.47 91.17,37.59 92.45,37.71 93.72,37.84 94.99,37.96 96.26,38.09 97.53,38.22 98.80,38.35 100.07,38.48 101.34,38.61 102.61,38.75 103.88,38.89 105.15,39.03 106.42,39.17 107.70,39.31 108.97,39.46 110.24,39.60 111.51,39.75 112.78,39.90 114.05,40.06 115.32,40.21 116.59,40.37 117.86,40.53 119.13,40.69 120.40,40.86 121.68,41.03 122.95,41.20 124.22,41.37 125.49,41.55 126.76,41.73 128.03,41.91 129.30,42.09 130.57,42.28 131.84,42.47 133.11,42.66 134.38,42.86 135.65,43.06 136.93,43.26 138.20,43.47 139.47,43.68 140.74,43.90 142.01,44.12 143.28,44.34 144.55,44.57 145.82,44.80 147.09,45.03 148.36,45.27 149.63,45.51 150.91,45.76 152.18,46.02 153.45,46.27 154.72,46.54 155.99,46.80 157.26,47.08 158.53,47.36 159.80,47.64 161.07,47.93 162.34,48.23 163.61,48.53 164.88,48.84 166.16,49.16 167.43,49.48 168.70,49.81 169.97,50.15 171.24,50.49 172.51,50.84 173.78,51.20 175.05,51.56 176.32,51.94 177.59,52.32 178.86,52.71 180.14,53.10 181.41,53.51 182.68,53.92 183.95,54.35 185.22,54.78 186.49,55.22 187.76,55.67 189.03,56.12 190.30,56.59 191.57,57.06 192.84,57.55 194.11,58.04 195.39,58.54 196.66,59.04 197.93,59.56 199.20,60.08 200.47,60.61 201.74,61.15 203.01,61.69 204.28,62.24 205.55,62.79 206.82,63.35 208.09,63.92 209.36,64.49 210.64,65.07 211.91,65.65 213.18,66.24 214.45,66.83 215.72,67.42 216.99,68.01 218.26,68.61 219.53,69.22 220.80,69.82 222.07,70.43 223.34,71.04 224.62,71.65 225.89,72.27 227.16,72.89 228.43,73.51 229.70,74.13 230.97,74.75 232.24,75.38 233.51,76.00 234.78,76.63 236.05,77.26 237.32,77.89 238.59,78.53 239.87,79.16 241.14,79.80 242.41,80.44 243.68,81.08 244.95,81.72 246.22,82.36 247.49,83.00 248.76,83.65 250.03,84.29 251.30,84.94 252.57,85.59 253.85,86.24 255.12,86.89 256.39,87.54 257.66,88.20 258.93,88.85 260.20,89.51 261.47,90.17 262.74,90.83 264.01,91.49 265.28,92.15 266.55,92.82 267.82,93.48 269.10,94.15 270.37,94.81 271.64,95.48 272.91,96.15 274.18,96.83 275.45,97.50 276.72,98.17 277.99,98.85 279.26,99.53 280.53,100.20 281.80,100.88 283.08,101.57 284.35,102.25 285.62,102.93 286.89,103.62 288.16,104.30 289.43,104.99 290.70,105.68 291.97,106.37 293.24,107.07 294.51,107.76 295.78,108.45 297.05,109.15 298.33,109.85 299.60,110.55 300.87,111.25 302.14,111.95 303.41,112.66 304.68,113.36 305.95,114.07 307.22,114.77 308.49,115.48 309.76,116.19 311.03,116.91 312.31,117.62 313.58,118.34 314.85,119.05 316.12,119.77 317.39,120.49 318.66,121.21 319.93,121.93 321.20,122.66 322.47,123.38 323.74,124.11 325.01,124.84 326.28,125.57 327.56,126.30 328.83,127.03 330.10,127.76 331.37,128.50 332.64,129.24 333.91,129.98 335.18,130.72 336.45,131.46 337.72,132.20 338.99,132.95 340.26,133.69 341.54,134.44 342.81,135.19 344.08,135.94 345.35,136.69 346.62,137.45"/><polyline stroke="#b87cff" stroke-dasharray="5.65 1.95" stroke-dashoffset="-0.67" points="42.88,33.64 44.15,33.72 45.42,33.79 46.69,33.87 47.96,33.95 49.24,34.03 50.51,34.11 51.78,34.19 53.05,34.28 54.32,34.36 55.59,34.44 56.86,34.53 58.13,34.62 59.40,34.70 60.67,34.79 61.94,34.88 63.22,34.97 64.49,35.06 65.76,35.15 67.03,35.24 68.30,35.33 69.57,35.43 70.84,35.52 72.11,35.62 73.38,35.71 74.65,35.81 75.92,35.91 77.19,36.01 78.47,36.11 79.74,36.21 81.01,36.31 82.28,36.42 83.55,36.52 84.82,36.63 86.09,36.74 87.36,36.85 88.63,36.96 89.90,37.07 91.17,37.18 92.45,37.29 93.72,37.41 94.99,37.52 96.26,37.64 97.53,37.76 98.80,37.88 100.07,38.00 101.34,38.13 102.61,38.25 103.88,38.38 105.15,38.50 106.42,38.63 107.70,38.76 108.97,38.90 110.24,39.03 111.51,39.16 112.78,39.30 114.05,39.44 115.32,39.58 116.59,39.72 117.86,39.87 119.13,40.01 120.40,40.16 121.68,40.31 122.95,40.46 124.22,40.62 125.49,40.77 126.76,40.93 128.03,41.09 129.30,41.25 130.57,41.42 131.84,41.58 133.11,41.75 134.38,41.92 135.65,42.09 136.93,42.27 138.20,42.45 139.47,42.63 140.74,42.81 142.01,43.00 143.28,43.18 144.55,43.37 145.82,43.57 147.09,43.76 148.36,43.96 149.63,44.16 150.91,44.37 152.18,44.58 153.45,44.79 154.72,45.00 155.99,45.22 157.26,45.43 158.53,45.66 159.80,45.88 161.07,46.11 162.34,46.34 163.61,46.58 164.88,46.82 166.16,47.06 167.43,47.31 168.70,47.56 169.97,47.81 171.24,48.06 172.51,48.32 173.78,48.59 175.05,48.85 176.32,49.12 177.59,49.40 178.86,49.68 180.14,49.96 181.41,50.24 182.68,50.53 183.95,50.82 185.22,51.12 186.49,51.42 187.76,51.72 189.03,52.03 190.30,52.34 191.57,52.65 192.84,52.97 194.11,53.29 195.39,53.61 196.66,53.94 197.93,54.27 199.20,54.60 200.47,54.94 201.74,55.28 203.01,55.62 204.28,55.97 205.55,56.31 206.82,56.67 208.09,57.02 209.36,57.38 210.64,57.73 211.91,58.10 213.18,58.46 214.45,58.83 215.72,59.19 216.99,59.56 218.26,59.94 219.53,60.31 220.80,60.69 222.07,61.07 223.34,61.45 224.62,61.83 225.89,62.21 227.16,62.60 228.43,62.98 229.70,63.37 230.97,63.77 232.24,64.18 233.51,64.59 234.78,65.00 236.05,65.41 237.32,65.82 238.59,66.23 239.87,66.65 241.14,67.06 242.41,67.48 243.68,67.90 244.95,68.31 246.22,68.73 247.49,69.15 248.76,69.58 250.03,70.00 251.30,70.42 252.57,70.85 253.85,71.27 255.12,71.70 256.39,72.13 257.66,72.56 258.93,72.99 260.20,73.42 261.47,73.85 262.74,74.28 264.01,74.72 265.28,75.15 266.55,75.59 267.82,76.02 269.10,76.46 270.37,76.90 271.64,77.34 272.91,77.78 274.18,78.22 275.45,78.66 276.72,79.10 277.99,79.54 279.26,79.99 280.53,80.43 281.80,80.86 283.08,81.29 284.35,81.72 285.62,82.16 286.89,82.59 288.16,83.03 289.43,83.46 290.70,83.90 291.97,84.34 293.24,84.77 294.51,85.21 295.78,85.66 297.05,86.10 298.33,86.54 299.60,86.98 300.87,87.43 302.14,87.87 303.41,88.32 304.68,88.76 305.95,89.21 307.22,89.66 308.49,90.11 309.76,90.56 311.03,91.01 312.31,91.46 313.58,91.92 314.85,92.37 316.12,92.83 317.39,93.28 318.66,93.74 319.93,94.20 321.20,94.66 322.47,95.12 323.74,95.58 325.01,96.04 326.28,96.50 327.56,96.96 328.83,97.43 330.10,97.89 331.37,98.36 332.64,98.83 333.91,99.29 335.18,99.76 336.45,100.23 337.72,100.70 338.99,101.18 340.26,101.65 341.54,102.12 342.81,102.60 344.08,103.07 345.35,103.55 346.62,104.03"/></g><path d="M47.10,3.0v9.2M47.10,210.75v-9.2M57.65,3.0v5.0M57.65,210.75v-5.0M68.19,3.0v5.0M68.19,210.75v-5.0M78.74,3.0v5.0M78.74,210.75v-5.0M89.29,3.0v9.2M89.29,210.75v-9.2M99.83,3.0v5.0M99.83,210.75v-5.0M110.38,3.0v5.0M110.38,210.75v-5.0M120.93,3.0v5.0M120.93,210.75v-5.0M131.47,3.0v9.2M131.47,210.75v-9.2M142.02,3.0v5.0M142.02,210.75v-5.0M152.56,3.0v5.0M152.56,210.75v-5.0M163.11,3.0v5.0M163.11,210.75v-5.0M173.66,3.0v9.2M173.66,210.75v-9.2M184.20,3.0v5.0M184.20,210.75v-5.0M194.75,3.0v5.0M194.75,210.75v-5.0M205.30,3.0v5.0M205.30,210.75v-5.0M215.84,3.0v9.2M215.84,210.75v-9.2M226.39,3.0v5.0M226.39,210.75v-5.0M236.94,3.0v5.0M236.94,210.75v-5.0M247.48,3.0v5.0M247.48,210.75v-5.0M258.03,3.0v9.2M258.03,210.75v-9.2M268.58,3.0v5.0M268.58,210.75v-5.0M279.12,3.0v5.0M279.12,210.75v-5.0M289.67,3.0v5.0M289.67,210.75v-5.0M300.21,3.0v9.2M300.21,210.75v-9.2M310.76,3.0v5.0M310.76,210.75v-5.0M321.31,3.0v5.0M321.31,210.75v-5.0M331.85,3.0v5.0M331.85,210.75v-5.0M342.40,3.0v9.2M342.40,210.75v-9.2M47.1,3.00h9.2M342.4,3.00h-9.2M47.1,13.39h5.0M342.4,13.39h-5.0M47.1,23.77h5.0M342.4,23.77h-5.0M47.1,34.16h5.0M342.4,34.16h-5.0M47.1,44.55h5.0M342.4,44.55h-5.0M47.1,54.94h9.2M342.4,54.94h-9.2M47.1,65.32h5.0M342.4,65.32h-5.0M47.1,75.71h5.0M342.4,75.71h-5.0M47.1,86.10h5.0M342.4,86.10h-5.0M47.1,96.49h5.0M342.4,96.49h-5.0M47.1,106.88h9.2M342.4,106.88h-9.2M47.1,117.26h5.0M342.4,117.26h-5.0M47.1,127.65h5.0M342.4,127.65h-5.0M47.1,138.04h5.0M342.4,138.04h-5.0M47.1,148.42h5.0M342.4,148.42h-5.0M47.1,158.81h9.2M342.4,158.81h-9.2M47.1,169.20h5.0M342.4,169.20h-5.0M47.1,179.59h5.0M342.4,179.59h-5.0M47.1,189.97h5.0M342.4,189.97h-5.0M47.1,200.36h5.0M342.4,200.36h-5.0M47.1,210.75h9.2M342.4,210.75h-9.2" stroke="#000" stroke-width="1.3" fill="none"/><rect x="47.1" y="3.0" width="295.30" height="207.75" fill="none" stroke="#000" stroke-width="1.25"/><text transform="translate(38.61,226.90) scale(0.998,1.0)" font-size="13.5" fill="#000">8.6</text><text transform="translate(80.80,226.90) scale(0.998,1.0)" font-size="13.5" fill="#000">8.7</text><text transform="translate(122.98,226.90) scale(1.007,1.0)" font-size="13.5" fill="#000">8.8</text><text transform="translate(165.16,226.90) scale(1.007,1.0)" font-size="13.5" fill="#000">8.9</text><text transform="translate(207.49,226.90) scale(0.998,1.0)" font-size="13.5" fill="#000">9.0</text><text transform="translate(249.67,226.90) scale(1.015,1.0)" font-size="13.5" fill="#000">9.1</text><text transform="translate(291.85,226.90) scale(1.015,1.0)" font-size="13.5" fill="#000">9.2</text><text transform="translate(334.05,226.90) scale(0.998,1.0)" font-size="13.5" fill="#000">9.3</text><text transform="translate(38.50,6.51) rotate(-90) scale(1.040,1.0)" font-size="13.5" fill="#000">0</text><text transform="translate(38.50,52.77) rotate(-90) scale(0.833,1.0)" font-size="13.5" fill="#000">5</text><rect x="34.78" y="54.5" width="0.85" height="7.00" fill="#000"/><text transform="translate(38.50,107.19) rotate(-90) scale(0.894,1.0)" font-size="13.5" fill="#000">10</text><rect x="34.78" y="109.4" width="0.85" height="7.50" fill="#000"/><text transform="translate(38.50,159.13) rotate(-90) scale(0.851,1.0)" font-size="13.5" fill="#000">15</text><rect x="34.78" y="161.4" width="0.85" height="7.50" fill="#000"/><text transform="translate(60.10,80.70) scale(0.990,1.0)" font-size="13.5" fill="#b87cff">9.2</text><text transform="translate(60.11,106.60) scale(0.960,1.0)" font-size="13.5" fill="#ff6a35">9.0</text><text transform="translate(59.76,142.60) scale(1.000,1.0)" font-size="13.5" fill="#08807f">8.8</text><text transform="translate(59.87,195.00) scale(0.986,1.0)" font-size="13.5" fill="#640aa8">8.6</text><text transform="translate(112.47,195.00) scale(0.977,1.0)" font-size="13.5" fill="#b9121e">8.4</text><text transform="translate(143.06,195.00) scale(0.992,1.0)" font-size="13.5" fill="#daa520">8.2</text><text transform="translate(186.47,195.00) scale(0.975,1.0)" font-size="13.5" fill="#1463ff">8.0</text><text transform="translate(68.73,19.90) scale(1.107,1.0)" font-size="10.6" fill="#000" stroke="#fff" stroke-width="0.135">23</text><text transform="translate(82.00,25.80) scale(1.065,1.0)" font-size="15.6" fill="#000" stroke="#fff" stroke-width="0.141">Na</text><text transform="translate(137.83,19.90) scale(1.107,1.0)" font-size="10.6" fill="#000" stroke="#fff" stroke-width="0.135">23</text><text transform="translate(150.51,25.80) scale(1.055,1.0)" font-size="15.6" fill="#000" stroke="#fff" stroke-width="0.142">Ne</text><path d="M111.9,19.3H126.8L123.1,15.4M126.8,22.6H111.9L115.7,26.5" stroke="#000" stroke-width="1.0" fill="none" stroke-linecap="butt"/><text transform="translate(138.29,249.60) scale(1.019,1.0)" font-size="15.2" fill="#000" stroke="#fff" stroke-width="0.147">log</text><text transform="translate(159.09,249.60) scale(1.000,1.11)" font-size="15.2" fill="#000" stroke="#fff" stroke-width="0.150">(</text><text transform="translate(164.71,249.60) scale(1.008,1.0)" font-size="15.2" font-style="italic" fill="#000" stroke="#fff" stroke-width="0.149">ρ</text><text transform="translate(172.81,249.60) scale(1.191,1.0)" font-size="15.2" font-style="italic" fill="#000" stroke="#fff" stroke-width="0.126">Y</text><text transform="translate(182.91,252.30) scale(1.067,1.0)" font-size="11.4" fill="#000" stroke="#fff" stroke-width="0.141">e</text><text transform="translate(189.60,253.40) scale(1.480,1.54)" font-size="15.2" fill="#000" stroke="#fff" stroke-width="0.101">/</text><text transform="translate(195.35,249.60) scale(1.062,1.0)" font-size="15.2" fill="#000" stroke="#fff" stroke-width="0.141">g</text><text transform="translate(205.31,249.60) scale(1.141,1.0)" font-size="15.2" fill="#000" stroke="#fff" stroke-width="0.131">cm</text><rect x="227.7" y="240.9" width="6.8" height="0.75" fill="#000"/><text transform="translate(235.19,244.80) scale(1.146,1.0)" font-size="10.639999999999999" fill="#000" stroke="#fff" stroke-width="0.131">3</text><text transform="translate(245.64,249.60) scale(1.000,1.11)" font-size="15.2" fill="#000" stroke="#fff" stroke-width="0.150">)</text><text transform="translate(13.20,143.29) rotate(-90) scale(0.944,1.0)" font-size="15.2" fill="#000" stroke="#fff" stroke-width="0.159">log</text><text transform="translate(13.20,123.21) rotate(-90) scale(1.000,1.11)" font-size="15.2" fill="#000" stroke="#fff" stroke-width="0.150">(</text><text transform="translate(13.20,116.11) rotate(-90) scale(0.949,1.0)" font-size="15.2" font-style="italic" fill="#000" stroke="#fff" stroke-width="0.158">λ</text><text transform="translate(17.00,107.20) rotate(-90) scale(1.504,1.54)" font-size="15.2" fill="#000" stroke="#fff" stroke-width="0.100">/</text><text transform="translate(13.20,99.39) rotate(-90) scale(0.976,1.0)" font-size="15.2" fill="#000" stroke="#fff" stroke-width="0.154">s</text><rect x="3.4" y="83.3" width="0.75" height="8.0" fill="#000"/><text transform="translate(8.40,81.65) rotate(-90) scale(0.994,1.0)" font-size="10.639999999999999" fill="#000" stroke="#fff" stroke-width="0.151">1</text><text transform="translate(13.20,75.86) rotate(-90) scale(1.000,1.11)" font-size="15.2" fill="#000" stroke="#fff" stroke-width="0.150">)</text></svg></body></html>
